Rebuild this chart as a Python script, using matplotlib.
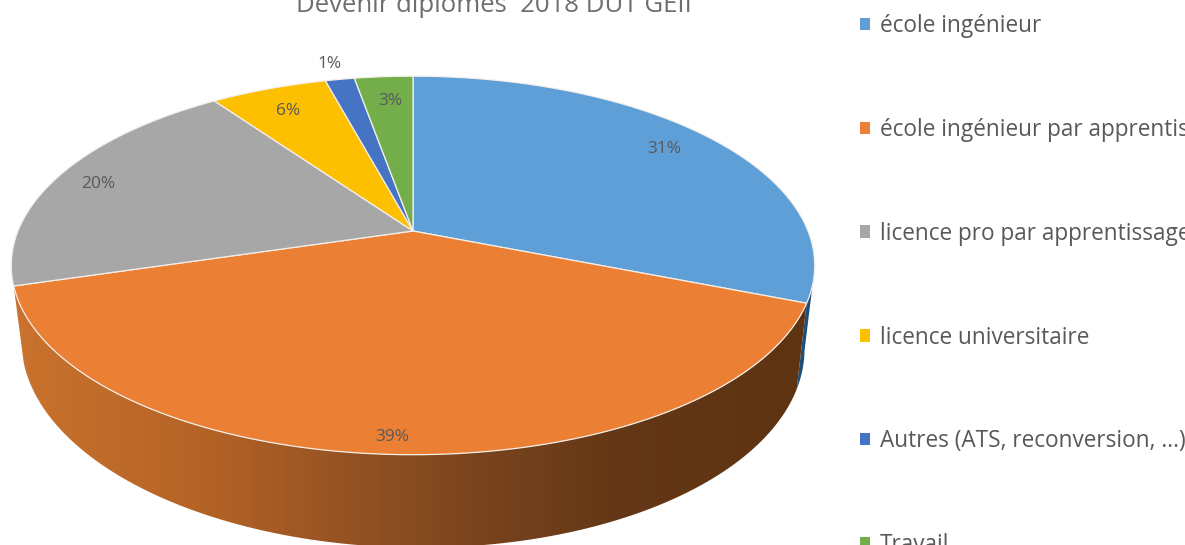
import numpy as np
import matplotlib
matplotlib.use("Agg")
import matplotlib.pyplot as plt
from matplotlib.colors import LinearSegmentedColormap
from matplotlib.patches import Patch, Polygon

title = "Devenir diplomés  2018 DUT GEII"
categories = ["école ingénieur", "école ingénieur par apprentissage",
              "licence pro par apprentissage", "licence universitaire",
              "Autres (ATS, reconversion, ...)", "Travail"]
values = [31.0, 39.4, 19.8, 5.6, 1.4, 2.8]
colors = ["#5F9FD7", "#EB8035", "#A7A7A7", "#FDC000", "#4674C5", "#73AE4B"]
label_radius = [0.83, 0.93, 0.88, 0.82, 1.135, 0.83]
label_shift = [(1, -3), (-1, 1), (-3, 3), (-3, 0), (-2, 2), (2, 2)]

plt.rcParams['font.family'] = ['Open Sans', 'DejaVu Sans']

# perspective of the tilted disc, in pixels: centre y, x radius, y radius, skew
CX = 413
K = 0.182
TOP = (231, 395, 183, 0)
BOTTOM = (308, 385, 196, 4)


def project(theta, r=1.0, plane=TOP):
    cy, rx, ry, skew = plane
    x = r * np.sin(theta)
    y = r * np.cos(theta)
    d = 1 + K * y
    return CX + rx * x / d, cy - ry * y / d + skew * x / d


def arc(start, end, plane=TOP, n=120):
    return project(np.linspace(start, end, n), plane=plane)


fig = plt.figure(figsize=(11.85, 5.45), dpi=100)
ax = fig.add_axes([0, 0, 1, 1])

angles = np.concatenate([[0], np.cumsum(values)]) / sum(values) * 2 * np.pi

# side of the blue slice, just visible on the right
a0 = np.radians(101)
xt, yt = arc(a0, angles[1])
xb, yb = arc(angles[1], a0, plane=BOTTOM)
ax.fill(np.r_[xt, xb], np.r_[yt, yb], color="#1F4E79", lw=0, zorder=1)

# side of the orange slice, shaded left to right
xt, yt = arc(angles[1], angles[2])
xb, yb = arc(angles[2], angles[1], plane=BOTTOM)
side_cmap = LinearSegmentedColormap.from_list("side", [
    (0.00, "#CB732E"), (0.25, "#B36226"), (0.45, "#8F5022"),
    (0.58, "#7A441E"), (0.75, "#643816"), (1.00, "#5E3312")])
img = ax.imshow(np.linspace(0, 1, 256)[None, :], cmap=side_cmap, aspect='auto',
                extent=[10, 815, 560, 270], zorder=2)
side = Polygon(np.c_[np.r_[xt, xb], np.r_[yt, yb]], closed=True,
               transform=ax.transData, fc='none', ec='none')
ax.add_patch(side)
img.set_clip_path(side)

# top of the pie
for i, color in enumerate(colors):
    xs, ys = arc(angles[i], angles[i + 1])
    ax.fill(np.r_[CX, xs], np.r_[TOP[0], ys], facecolor=color,
            edgecolor="#F4EFEA", lw=0.9, zorder=3)

for i, v in enumerate(values):
    mid = (angles[i] + angles[i + 1]) / 2
    lx, ly = project(mid, label_radius[i])
    ax.text(lx + label_shift[i][0], ly + label_shift[i][1], f"{v:.0f}%",
            ha='center', va='center', fontsize=12.4, color="#595959", zorder=4)

ax.text(494, 12, title, ha='center', va='baseline', fontsize=18.5, color="#6E6E6E")

handles = [Patch(facecolor=c, edgecolor='none') for c in colors]
ax.legend(handles, categories, loc='upper left', bbox_to_anchor=(853, 7),
          bbox_transform=ax.transData, frameon=False, prop={'size': 16.3},
          labelcolor="#595959", handlelength=0.45, handleheight=0.45,
          handletextpad=0.44, labelspacing=3.53, borderpad=0.3, borderaxespad=0)

ax.set_xlim(0, 1185)
ax.set_ylim(545, 0)
ax.axis('off')

fig.savefig("out.png", dpi=100)
